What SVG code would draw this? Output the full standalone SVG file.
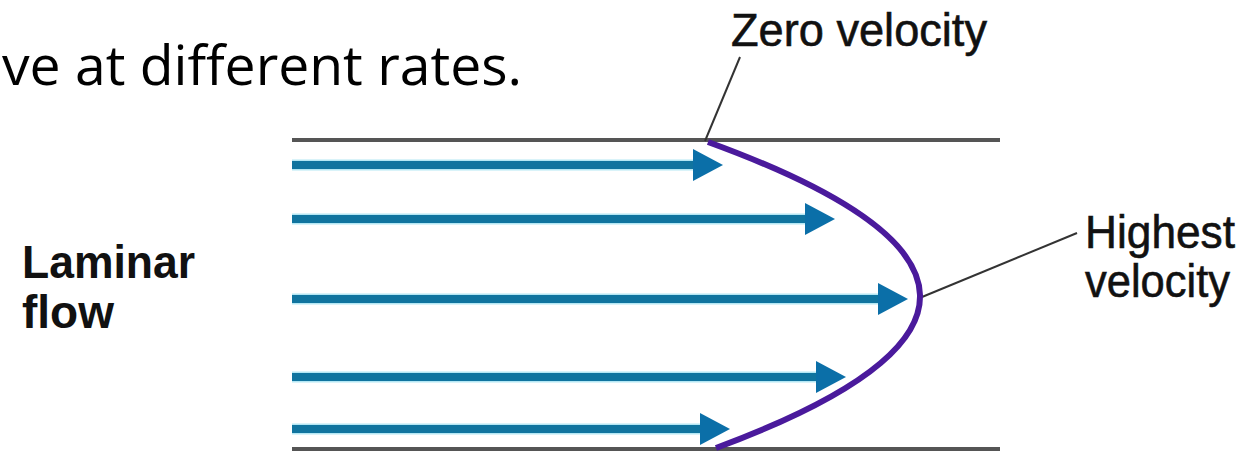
<svg xmlns="http://www.w3.org/2000/svg" width="1257" height="453" viewBox="0 0 1257 453">
<style>
.wall{stroke:#555;stroke-width:4;fill:none}
.halo{stroke:#b4e7f4;stroke-width:11;fill:none}
.shaft{stroke:#10749f;stroke-width:8;fill:none}
.head{fill:#0b6fa8}
.lead{stroke:#333;stroke-width:2;fill:none}
.lbl{font-family:"Liberation Sans",Arial,sans-serif;font-size:46px;fill:#111;stroke:#111;stroke-width:0.6}
.bold{font-weight:bold;stroke-width:0}
</style>
<rect width="1257" height="453" fill="#fff"/>
<g id="title"><text x="2" y="85" font-family="'Open Sans','DejaVu Sans',sans-serif" font-size="55" fill="#000" textLength="520" lengthAdjust="spacingAndGlyphs">ve at different rates.</text></g>
<g id="walls">
<line class="wall" x1="292" y1="140" x2="1000" y2="140"/>
<line class="wall" x1="292" y1="449" x2="1000" y2="449"/>
</g>
<g id="connectors">
<g id="arrow1"><line class="halo" x1="292" y1="165" x2="700" y2="165"/><line class="shaft" x1="292" y1="165" x2="700" y2="165"/><polygon class="head" points="723,165 693,149 693,181"/></g>
<g id="arrow2"><line class="halo" x1="292" y1="219" x2="812" y2="219"/><line class="shaft" x1="292" y1="219" x2="812" y2="219"/><polygon class="head" points="835,219 805,203 805,235"/></g>
<g id="arrow3"><line class="halo" x1="292" y1="299" x2="885" y2="299"/><line class="shaft" x1="292" y1="299" x2="885" y2="299"/><polygon class="head" points="908,299 878,283 878,315"/></g>
<g id="arrow4"><line class="halo" x1="292" y1="377" x2="823" y2="377"/><line class="shaft" x1="292" y1="377" x2="823" y2="377"/><polygon class="head" points="846,377 816,361 816,393"/></g>
<g id="arrow5"><line class="halo" x1="292" y1="429" x2="707" y2="429"/><line class="shaft" x1="292" y1="429" x2="707" y2="429"/><polygon class="head" points="730,429 700,413 700,445"/></g>
<line class="lead" x1="705" y1="141" x2="740" y2="57"/>
<line class="lead" x1="922" y1="297" x2="1077" y2="233"/>
</g>
<g id="profile"><path d="M708,142 Q1128,295 716,448" stroke="#4a1a9c" stroke-width="6" fill="none"/></g>
<g id="zero"><text class="lbl" x="731" y="46" textLength="256" lengthAdjust="spacingAndGlyphs">Zero velocity</text></g>
<g id="highest">
<text class="lbl" x="1085" y="248" textLength="150" lengthAdjust="spacingAndGlyphs">Highest</text>
<text class="lbl" x="1085" y="297" textLength="145" lengthAdjust="spacingAndGlyphs">velocity</text>
</g>
<g id="laminar">
<text class="lbl bold" x="22" y="278" textLength="173" lengthAdjust="spacingAndGlyphs">Laminar</text>
<text class="lbl bold" x="22" y="328">flow</text>
</g>
</svg>
